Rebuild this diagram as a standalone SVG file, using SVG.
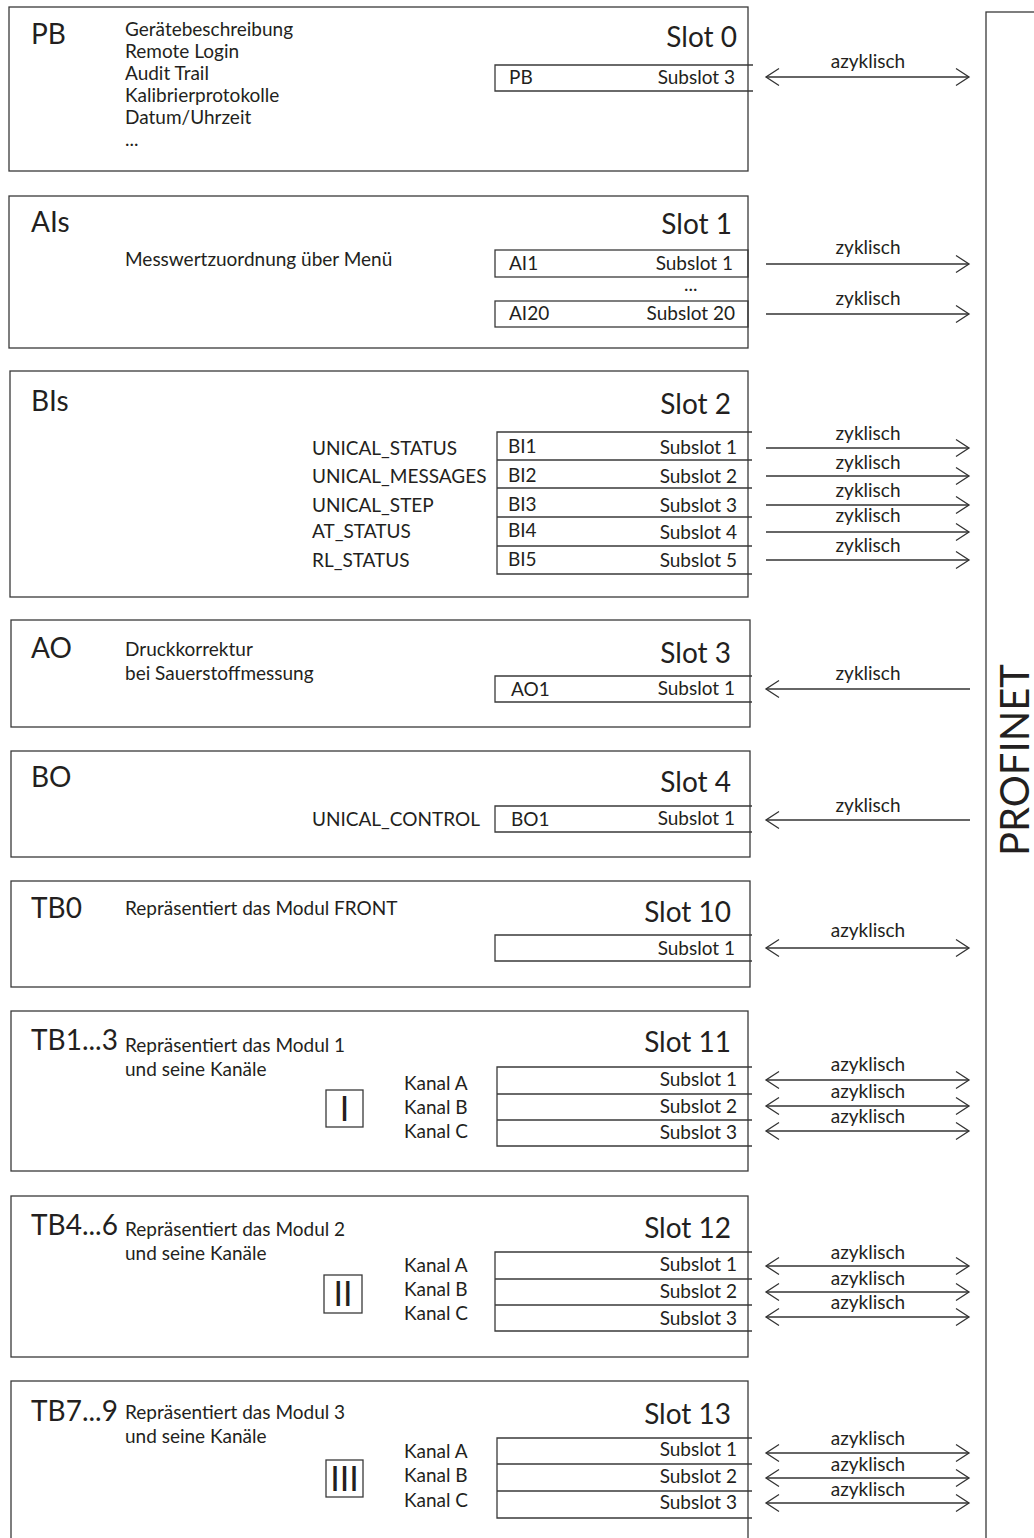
<svg xmlns="http://www.w3.org/2000/svg" width="1034" height="1538" viewBox="0 0 1034 1538">
<style>
.blk{fill:none;stroke:#3a3a3a;stroke-width:1.3}
.sub{fill:none;stroke:#3a3a3a;stroke-width:1.3}
text{font-family:Lato,"Liberation Sans",sans-serif;fill:#231f20}
.big{font-size:28px}
.t{font-size:19px}
.r{text-anchor:end}
.c{text-anchor:middle}
.rom{font-size:34px;text-anchor:middle}
.con{fill:none;stroke:#333;stroke-width:1.3}
.lbl{font-size:19px;text-anchor:middle}
</style>
<defs>
<marker id="ah" markerUnits="userSpaceOnUse" markerWidth="16" markerHeight="20" refX="14" refY="10" orient="auto-start-reverse">
<path d="M1,1.5 L14,10 L1,18.5" fill="none" stroke="#333" stroke-width="1.3"/>
</marker>
</defs>
<rect x="0" y="0" width="1034" height="1538" fill="#fff"/>

<g id="profinet">
<rect class="blk" x="986" y="12" width="70" height="1540"/>
<text transform="translate(1029,760) rotate(-90)" text-anchor="middle" style="font-size:40px">PROFINET</text>
</g>

<g id="slot0">
<rect class="blk" x="9" y="7" width="739" height="164"/>
<text class="big" x="31" y="44">PB</text>
<text class="t" x="125" y="36">Gerätebeschreibung</text>
<text class="t" x="125" y="58">Remote Login</text>
<text class="t" x="125" y="80">Audit Trail</text>
<text class="t" x="125" y="102">Kalibrierprotokolle</text>
<text class="t" x="125" y="124">Datum/Uhrzeit</text>
<text class="t" x="125" y="146">...</text>
<text class="big r" x="737" y="47">Slot 0</text>
<path class="sub" d="M753,65 H495 V91 H753"/>
<text class="t" x="509" y="84">PB</text>
<text class="t r" x="735" y="84">Subslot 3</text>
</g>

<g id="slot1">
<rect class="blk" x="9" y="196" width="739" height="152"/>
<text class="big" x="31" y="232">AIs</text>
<text class="t" x="125" y="266">Messwertzuordnung über Menü</text>
<text class="big r" x="732" y="234">Slot 1</text>
<rect class="sub" x="495" y="250" width="253" height="27"/>
<text class="t" x="509" y="270">AI1</text>
<text class="t r" x="733" y="270">Subslot 1</text>
<text class="t" x="684" y="291">...</text>
<rect class="sub" x="495" y="301" width="253" height="26"/>
<text class="t" x="509" y="320">AI20</text>
<text class="t r" x="735" y="320">Subslot 20</text>
</g>

<g id="slot2">
<rect class="blk" x="10" y="371" width="738" height="226"/>
<text class="big" x="31" y="411">BIs</text>
<text class="big r" x="731" y="414">Slot 2</text>
<path class="sub" d="M752,432 H497 V574 H752 M497,460 H752 M497,488 H752 M497,517 H752 M497,546 H752"/>
<text class="t" x="312" y="455">UNICAL_STATUS</text>
<text class="t" x="312" y="483">UNICAL_MESSAGES</text>
<text class="t" x="312" y="512">UNICAL_STEP</text>
<text class="t" x="312" y="538">AT_STATUS</text>
<text class="t" x="312" y="567">RL_STATUS</text>
<text class="t" x="508" y="453">BI1</text>
<text class="t r" x="737" y="454">Subslot 1</text>
<text class="t" x="508" y="482">BI2</text>
<text class="t r" x="737" y="483">Subslot 2</text>
<text class="t" x="508" y="511">BI3</text>
<text class="t r" x="737" y="512">Subslot 3</text>
<text class="t" x="508" y="537">BI4</text>
<text class="t r" x="737" y="539">Subslot 4</text>
<text class="t" x="508" y="566">BI5</text>
<text class="t r" x="737" y="567">Subslot 5</text>
</g>

<g id="slot3">
<rect class="blk" x="11" y="620" width="739" height="107"/>
<text class="big" x="31" y="658">AO</text>
<text class="t" x="125" y="656">Druckkorrektur</text>
<text class="t" x="125" y="680">bei Sauerstoffmessung</text>
<text class="big r" x="731" y="663">Slot 3</text>
<path class="sub" d="M752,676 H495 V702 H752"/>
<text class="t" x="511" y="696">AO1</text>
<text class="t r" x="735" y="695">Subslot 1</text>
</g>

<g id="slot4">
<rect class="blk" x="11" y="751" width="739" height="106"/>
<text class="big" x="31" y="787">BO</text>
<text class="big r" x="731" y="792">Slot 4</text>
<text class="t" x="312" y="826">UNICAL_CONTROL</text>
<path class="sub" d="M752,806 H495 V832 H752"/>
<text class="t" x="511" y="826">BO1</text>
<text class="t r" x="735" y="825">Subslot 1</text>
</g>

<g id="slot10">
<rect class="blk" x="11" y="881" width="739" height="106"/>
<text class="big" x="31" y="918">TB0</text>
<text class="t" x="125" y="915">Repräsentiert das Modul FRONT</text>
<text class="big r" x="731" y="922">Slot 10</text>
<path class="sub" d="M752,935 H495 V961 H752"/>
<text class="t r" x="735" y="955">Subslot 1</text>
</g>

<g id="slot11">
<rect class="blk" x="11" y="1011" width="737" height="160"/>
<text class="big" x="31" y="1050">TB1...3</text>
<text class="t" x="125" y="1052">Repräsentiert das Modul 1</text>
<text class="t" x="125" y="1076">und seine Kanäle</text>
<text class="big r" x="731" y="1052">Slot 11</text>
<rect class="sub" x="326" y="1090" width="37" height="37"/>
<text class="rom" x="344.5" y="1121">I</text>
<text class="t" x="404" y="1090">Kanal A</text>
<text class="t" x="404" y="1114">Kanal B</text>
<text class="t" x="404" y="1138">Kanal C</text>
<path class="sub" d="M752,1067 H497 V1146 H752 M497,1094 H752 M497,1120 H752"/>
<text class="t r" x="737" y="1086">Subslot 1</text>
<text class="t r" x="737" y="1113">Subslot 2</text>
<text class="t r" x="737" y="1139">Subslot 3</text>
</g>

<g id="slot12">
<rect class="blk" x="11" y="1196" width="737" height="161"/>
<text class="big" x="31" y="1235">TB4...6</text>
<text class="t" x="125" y="1236">Repräsentiert das Modul 2</text>
<text class="t" x="125" y="1260">und seine Kanäle</text>
<text class="big r" x="731" y="1238">Slot 12</text>
<rect class="sub" x="324" y="1275" width="38" height="38"/>
<text class="rom" x="343" y="1306">II</text>
<text class="t" x="404" y="1272">Kanal A</text>
<text class="t" x="404" y="1296">Kanal B</text>
<text class="t" x="404" y="1320">Kanal C</text>
<path class="sub" d="M752,1252 H495 V1331 H752 M495,1279 H752 M495,1305 H752"/>
<text class="t r" x="737" y="1271">Subslot 1</text>
<text class="t r" x="737" y="1298">Subslot 2</text>
<text class="t r" x="737" y="1325">Subslot 3</text>
</g>

<g id="slot13">
<rect class="blk" x="11" y="1381" width="737" height="170"/>
<text class="big" x="31" y="1421">TB7...9</text>
<text class="t" x="125" y="1419">Repräsentiert das Modul 3</text>
<text class="t" x="125" y="1443">und seine Kanäle</text>
<text class="big r" x="731" y="1424">Slot 13</text>
<rect class="sub" x="326" y="1460" width="37" height="37"/>
<text class="rom" x="344.5" y="1491">III</text>
<text class="t" x="404" y="1458">Kanal A</text>
<text class="t" x="404" y="1482">Kanal B</text>
<text class="t" x="404" y="1507">Kanal C</text>
<path class="sub" d="M752,1438 H497 V1518 H752 M497,1464 H752 M497,1491 H752"/>
<text class="t r" x="737" y="1456">Subslot 1</text>
<text class="t r" x="737" y="1483">Subslot 2</text>
<text class="t r" x="737" y="1509">Subslot 3</text>
</g>

<g id="connectors">
<line class="con" x1="766" y1="77" x2="969" y2="77" marker-start="url(#ah)" marker-end="url(#ah)"/>
<text class="lbl" x="868" y="68">azyklisch</text>
<line class="con" x1="766" y1="264" x2="969" y2="264" marker-end="url(#ah)"/>
<text class="lbl" x="868" y="254">zyklisch</text>
<line class="con" x1="766" y1="314" x2="969" y2="314" marker-end="url(#ah)"/>
<text class="lbl" x="868" y="305">zyklisch</text>
<line class="con" x1="766" y1="448" x2="969" y2="448" marker-end="url(#ah)"/>
<text class="lbl" x="868" y="440">zyklisch</text>
<line class="con" x1="766" y1="476" x2="969" y2="476" marker-end="url(#ah)"/>
<text class="lbl" x="868" y="469">zyklisch</text>
<line class="con" x1="766" y1="505" x2="969" y2="505" marker-end="url(#ah)"/>
<text class="lbl" x="868" y="497">zyklisch</text>
<line class="con" x1="766" y1="532" x2="969" y2="532" marker-end="url(#ah)"/>
<text class="lbl" x="868" y="522">zyklisch</text>
<line class="con" x1="766" y1="560" x2="969" y2="560" marker-end="url(#ah)"/>
<text class="lbl" x="868" y="552">zyklisch</text>
<line class="con" x1="970" y1="689" x2="766" y2="689" marker-end="url(#ah)"/>
<text class="lbl" x="868" y="680">zyklisch</text>
<line class="con" x1="970" y1="820" x2="766" y2="820" marker-end="url(#ah)"/>
<text class="lbl" x="868" y="812">zyklisch</text>
<line class="con" x1="766" y1="948" x2="969" y2="948" marker-start="url(#ah)" marker-end="url(#ah)"/>
<text class="lbl" x="868" y="937">azyklisch</text>
<line class="con" x1="766" y1="1080" x2="969" y2="1080" marker-start="url(#ah)" marker-end="url(#ah)"/>
<text class="lbl" x="868" y="1071">azyklisch</text>
<line class="con" x1="766" y1="1106" x2="969" y2="1106" marker-start="url(#ah)" marker-end="url(#ah)"/>
<text class="lbl" x="868" y="1098">azyklisch</text>
<line class="con" x1="766" y1="1131" x2="969" y2="1131" marker-start="url(#ah)" marker-end="url(#ah)"/>
<text class="lbl" x="868" y="1123">azyklisch</text>
<line class="con" x1="766" y1="1266" x2="969" y2="1266" marker-start="url(#ah)" marker-end="url(#ah)"/>
<text class="lbl" x="868" y="1259">azyklisch</text>
<line class="con" x1="766" y1="1292" x2="969" y2="1292" marker-start="url(#ah)" marker-end="url(#ah)"/>
<text class="lbl" x="868" y="1285">azyklisch</text>
<line class="con" x1="766" y1="1317" x2="969" y2="1317" marker-start="url(#ah)" marker-end="url(#ah)"/>
<text class="lbl" x="868" y="1309">azyklisch</text>
<line class="con" x1="766" y1="1453" x2="969" y2="1453" marker-start="url(#ah)" marker-end="url(#ah)"/>
<text class="lbl" x="868" y="1445">azyklisch</text>
<line class="con" x1="766" y1="1478" x2="969" y2="1478" marker-start="url(#ah)" marker-end="url(#ah)"/>
<text class="lbl" x="868" y="1471">azyklisch</text>
<line class="con" x1="766" y1="1503" x2="969" y2="1503" marker-start="url(#ah)" marker-end="url(#ah)"/>
<text class="lbl" x="868" y="1496">azyklisch</text>
</g>
</svg>
